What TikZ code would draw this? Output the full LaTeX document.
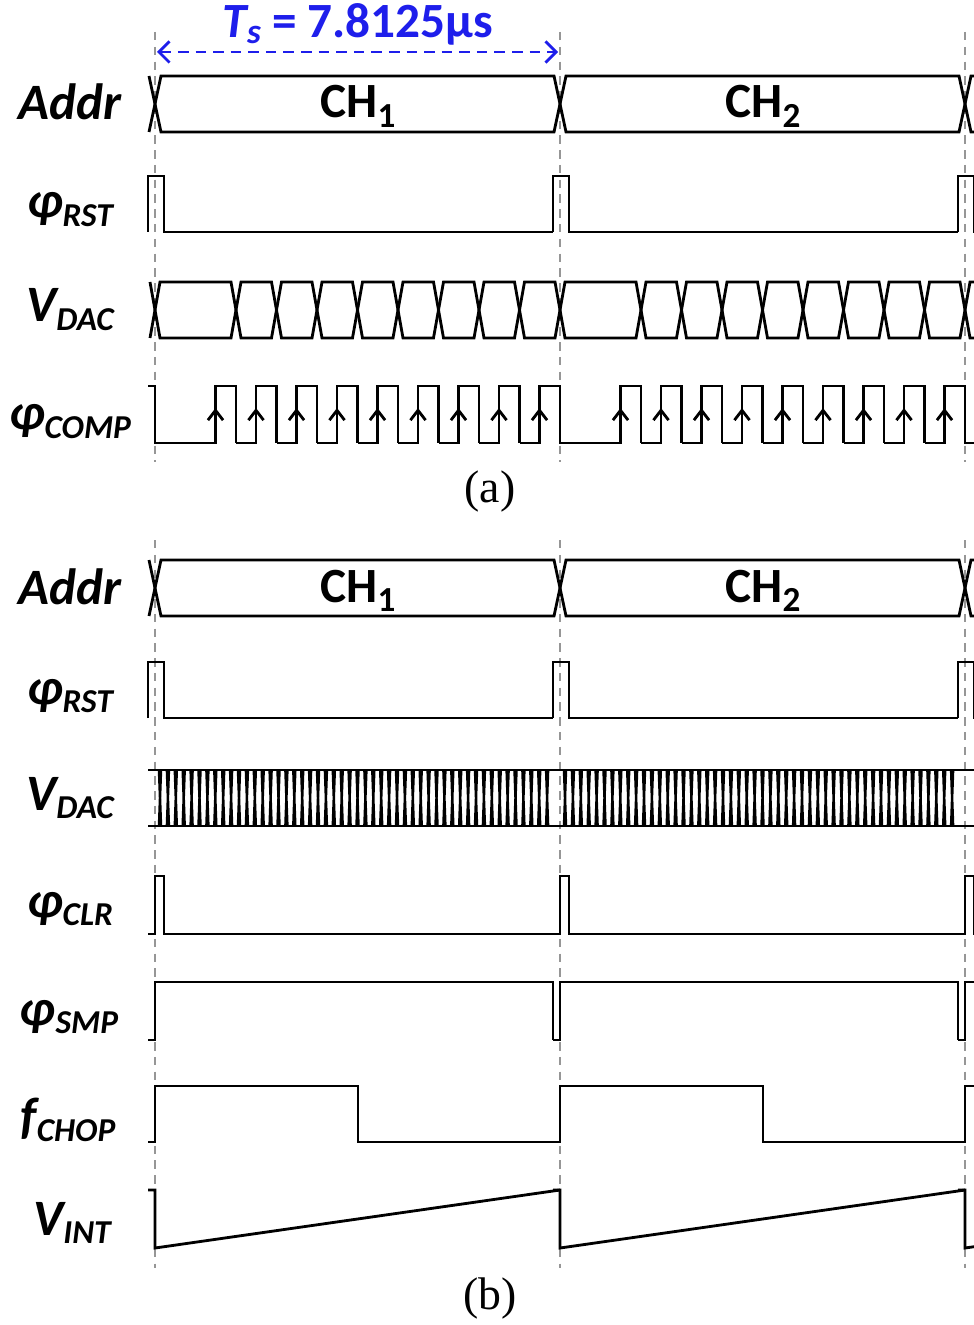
\documentclass[tikz,border=0pt]{standalone}
\usepackage{fontspec}
\setmainfont{Carlito}
\newfontfamily\capfont{Liberation Serif}
\usetikzlibrary{arrows.meta}

\definecolor{tsblue}{RGB}{30,30,235}
\definecolor{guidegray}{RGB}{150,150,150}

% signal name with lowered subscript
\newcommand{\sg}[2]{#1\raisebox{-0.17em}{\fontsize{9.5}{9.5}\selectfont #2}}

\tikzset{
    wave/.style={line width=0.8pt, line join=miter},
    guide/.style={guidegray, line width=0.6pt, dash pattern=on 2.4pt off 1.8pt},
    siglabel/.style={font=\fontsize{14.5}{14.5}\selectfont\bfseries\itshape, inner sep=0pt, anchor=base},
    chlabel/.style={font=\fontsize{14}{14}\selectfont\bfseries, inner sep=0pt, anchor=base},
    caption/.style={font=\fontsize{13}{13}\selectfont\capfont, inner sep=0pt},
    period/.style={tsblue, line width=0.8pt, dash pattern=on 3pt off 2pt,
        {Straight Barb[length=3pt,width=6pt]}-{Straight Barb[length=3pt,width=6pt]}},
    risemark/.style={wave, -{Straight Barb[length=2.8pt,width=4.3pt]}}
}

\begin{document}
\begin{tikzpicture}[x=0.01cm, y=-0.01cm]
    \useasboundingbox (0,0) rectangle (973,1325);

    % guide lines
    \foreach \t in {155,560,965} {
        \draw[guide] (\t,32) -- (\t,462);
        \draw[guide] (\t,540) -- (\t,1268);
    }

    % (a)
    \node[font=\fontsize{14}{14}\selectfont\bfseries, text=tsblue, inner sep=0pt, anchor=base] (ts) at (358,38)
        {{\itshape T\raisebox{-0.12em}{\fontsize{10}{10}\selectfont s}} = 7.8125µs};
    \coordinate (tsL) at (157,52);
    \coordinate (tsR) at (558,52);
    \draw[period] (tsL) -- (tsR);

    \node[siglabel] (addrA) at (70,120) {Addr};
    \node[siglabel] (rstA) at (70,218) {\sg{φ}{RST}};
    \node[siglabel] (dacA) at (70,322) {\sg{V}{DAC}};
    \node[siglabel] (compA) at (70,430) {\sg{φ}{COMP}};

    \draw[wave] (149,76) -- (155,104) -- (149,132);
    \foreach \a/\b in {155/560,560/965,965/1370}
        \draw[wave] (\a,104) -- (\a+6,76) -- (\b-6,76) -- (\b,104) -- (\b-6,132) -- (\a+6,132) -- cycle;
    \node[chlabel] (ch1A) at (358,118) {CH\raisebox{-0.2em}{\fontsize{10}{10}\selectfont 1}};
    \node[chlabel] (ch2A) at (763,118) {CH\raisebox{-0.2em}{\fontsize{10}{10}\selectfont 2}};

    \foreach \t in {155,560,965}
        \draw[wave] (\t-7,232) -- (\t-7,176) -- (\t+9,176) -- (\t+9,232) -- (\t+398,232);

    \draw[wave] (150,282) -- (155,310) -- (150,338);
    \foreach \t in {155,560,965} {
        \foreach \a/\b in {0/2,2/3,3/4,4/5,5/6,6/7,7/8,8/9,9/10}
            \draw[wave] (\t+40.5*\a,310) -- (\t+40.5*\a+5,282) -- (\t+40.5*\b-5,282)
                -- (\t+40.5*\b,310) -- (\t+40.5*\b-5,338) -- (\t+40.5*\a+5,338) -- cycle;
    }

    \foreach \t in {155,560,965} {
        \draw[wave] (\t-7,386) -- (\t,386) -- (\t,443) -- (\t+41,443);
        \foreach \k in {1,...,9} {
            \draw[wave] (\t+40.5*\k,443) -- (\t+40.5*\k+20,443) -- (\t+40.5*\k+20,386)
                -- (\t+40.5*\k+40.5,386) -- (\t+40.5*\k+40.5,443);
            \draw[risemark] (\t+40.5*\k+20,440) -- (\t+40.5*\k+20,408);
        }
    }

    \node[caption] (capA) at (490,492) {(a)};

    % (b)
    \node[siglabel] (addrB) at (70,604) {Addr};
    \node[siglabel] (rstB) at (70,704) {\sg{φ}{RST}};
    \node[siglabel] (dacB) at (70,810) {\sg{V}{DAC}};
    \node[siglabel] (clrB) at (70,917) {\sg{φ}{CLR}};
    \node[siglabel] (smpB) at (69,1025) {\sg{φ}{SMP}};
    \node[siglabel] (chopB) at (68,1133) {\sg{f}{CHOP}};
    \node[siglabel] (intB) at (72,1235) {\sg{V}{INT}};

    \draw[wave] (149,560) -- (155,588) -- (149,616);
    \foreach \a/\b in {155/560,560/965,965/1370}
        \draw[wave] (\a,588) -- (\a+6,560) -- (\b-6,560) -- (\b,588) -- (\b-6,616) -- (\a+6,616) -- cycle;
    \node[chlabel] (ch1B) at (358,602) {CH\raisebox{-0.2em}{\fontsize{10}{10}\selectfont 1}};
    \node[chlabel] (ch2B) at (763,602) {CH\raisebox{-0.2em}{\fontsize{10}{10}\selectfont 2}};

    \foreach \t in {155,560,965}
        \draw[wave] (\t-7,718) -- (\t-7,662) -- (\t+9,662) -- (\t+9,718) -- (\t+398,718);

    \draw[wave] (148,770) -- (980,770);
    \draw[wave] (148,826) -- (980,826);
    \foreach \t in {155,560} {
        \foreach \i in {0,...,49}
            \draw[wave, line width=0.7pt] (\t+5+7.9*\i-1,770) -- (\t+5+7.9*\i+1,826)
                (\t+5+7.9*\i-1,826) -- (\t+5+7.9*\i+1,770);
    }

    \foreach \t in {155,560,965}
        \draw[wave] (\t-7,934) -- (\t,934) -- (\t,876) -- (\t+9,876) -- (\t+9,934) -- (\t+398,934);

    \foreach \t in {155,560,965}
        \draw[wave] (\t-7,1040) -- (\t,1040) -- (\t,982) -- (\t+398,982) -- (\t+398,1040);

    \foreach \t in {155,560,965}
        \draw[wave] (\t-7,1142) -- (\t,1142) -- (\t,1086) -- (\t+203,1086) -- (\t+203,1142) -- (\t+398,1142);

    \foreach \t in {155,560,965}
        \draw[wave] (\t-7,1190) -- (\t,1190) -- (\t,1248) -- (\t+405,1190);

    \node[caption] (capB) at (490,1298) {(b)};
\end{tikzpicture}
\end{document}
